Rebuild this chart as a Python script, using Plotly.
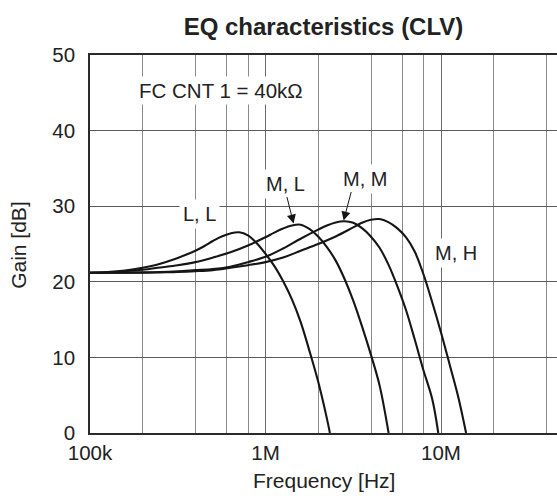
import plotly.graph_objects as go

# ---------------- data ----------------
# frequencies are given as log10(Hz); gains in dB
logf_ll = [5.0, 5.1, 5.2, 5.3, 5.35, 5.4, 5.45, 5.5, 5.55, 5.6, 5.65, 5.7, 5.75, 5.8, 5.85, 5.9, 5.95, 6.0, 6.05, 6.1, 6.15, 6.2, 6.25, 6.3, 6.35, 6.367]
gain_ll = [21.2, 21.3, 21.5, 21.85, 22.1, 22.4, 22.75, 23.15, 23.6, 24.1, 24.7, 25.4, 26.0, 26.4, 26.55, 26.15, 25.1, 23.7, 22.1, 20.1, 17.7, 14.7, 10.9, 6.8, 1.9, 0.0]

logf_ml = [5.0, 5.1, 5.2, 5.3, 5.4, 5.5, 5.6, 5.7, 5.8, 5.9, 6.0, 6.05, 6.1, 6.15, 6.2, 6.25, 6.3, 6.35, 6.4, 6.45, 6.5, 6.55, 6.6, 6.65, 6.7015]
gain_ml = [21.2, 21.25, 21.4, 21.6, 21.9, 22.2, 22.6, 23.2, 23.9, 24.8, 25.9, 26.5, 27.05, 27.45, 27.55, 27.0, 26.0, 24.6, 22.8, 20.4, 17.5, 14.1, 10.4, 6.3, 0.0]

logf_mm = [5.0, 5.1, 5.2, 5.3, 5.4, 5.5, 5.6, 5.7, 5.8, 5.9, 6.0, 6.1, 6.2, 6.3, 6.35, 6.4, 6.45, 6.5, 6.55, 6.6, 6.65, 6.7, 6.75, 6.8, 6.85, 6.9, 6.95, 6.9845]
gain_mm = [21.2, 21.2, 21.22, 21.25, 21.3, 21.4, 21.55, 21.7, 22.0, 22.6, 23.3, 24.4, 25.7, 26.9, 27.45, 27.85, 28.0, 27.8, 27.1, 26.0, 24.5, 22.3, 19.5, 16.3, 12.4, 8.3, 4.5, 0.0]

logf_mh = [5.0, 5.1, 5.2, 5.3, 5.4, 5.5, 5.6, 5.7, 5.8, 5.9, 6.0, 6.1, 6.2, 6.3, 6.4, 6.5, 6.55, 6.6, 6.65, 6.7, 6.75, 6.8, 6.85, 6.9, 6.95, 7.0, 7.05, 7.1, 7.143]
gain_mh = [21.2, 21.2, 21.2, 21.2, 21.25, 21.3, 21.4, 21.55, 21.85, 22.2, 22.6, 23.2, 24.1, 25.0, 26.0, 27.2, 27.8, 28.2, 28.3, 27.9, 27.1, 25.9, 24.0, 21.0, 17.3, 13.3, 9.0, 4.6, 0.0]

x_tick_vals = [1e5, 1e6, 1e7]
x_tick_text = ["100k", "1M", "10M"]
x_minor_vals = [2e5, 4e5, 6e5, 8e5, 2e6, 4e6, 6e6, 8e6, 2e7, 4e7]
y_tick_vals = [0, 10, 20, 30, 40, 50]

curve_labels = ["L, L", "M, L", "M, M", "M, H"]
label_logf = [5.6256, 6.1128, 6.5687, 7.086]
label_gain = [29.0, 33.0, 33.65, 23.8]

# ---------------- figure ----------------
FONT = "Liberation Sans, Arial, sans-serif"
TXT = "#222222"

fig = go.Figure()
for lf, gy, nm in [(logf_ll, gain_ll, "L, L"), (logf_ml, gain_ml, "M, L"),
                   (logf_mm, gain_mm, "M, M"), (logf_mh, gain_mh, "M, H")]:
    fig.add_trace(go.Scatter(x=[10 ** v for v in lf], y=gy, mode="lines", name=nm,
                             line=dict(color="#151515", width=2.1, shape="spline", smoothing=1.0),
                             showlegend=False, hoverinfo="skip"))

annotations = []
for t, lf, gy in zip(curve_labels, label_logf, label_gain):
    annotations.append(dict(x=lf, y=gy, xref="x", yref="y", text=t, showarrow=False,
                            font=dict(family=FONT, size=20, color=TXT), bgcolor="white", borderpad=3,
                            xanchor="center", yanchor="middle"))
annotations.append(dict(x=5.7464, y=45.3, xref="x", yref="y", text="FC CNT 1 = 40kΩ", showarrow=False,
                        font=dict(family=FONT, size=20.5, color=TXT), bgcolor="white", borderpad=2,
                        xanchor="center", yanchor="middle"))
# arrows
annotations.append(dict(x=6.160, y=27.7, xref="x", yref="y", text="", showarrow=True,
                        ax=-7, ay=-28, axref="pixel", ayref="pixel", arrowhead=2, arrowsize=1.8,
                        arrowwidth=1, arrowcolor="#151515", standoff=0))
annotations.append(dict(x=6.445, y=28.1, xref="x", yref="y", text="", showarrow=True,
                        ax=8, ay=-30, axref="pixel", ayref="pixel", arrowhead=2, arrowsize=1.8,
                        arrowwidth=1, arrowcolor="#151515", standoff=0))
# axis titles
annotations.append(dict(x=0.5, y=-0.1251, xref="paper", yref="paper", text="Frequency [Hz]", showarrow=False,
                        font=dict(family=FONT, size=21, color=TXT), xanchor="center", yanchor="middle"))
annotations.append(dict(x=-0.153, y=0.4966, xref="paper", yref="paper", text="Gain [dB]", showarrow=False,
                        textangle=-90, font=dict(family=FONT, size=21, color=TXT),
                        xanchor="center", yanchor="middle"))

fig.update_layout(
    width=557, height=496,
    margin=dict(l=90, r=0, t=55, b=63, pad=0),
    paper_bgcolor="white", plot_bgcolor="white",
    title=dict(text="<b>EQ characteristics (CLV)</b>", x=0.5, xref="paper", xanchor="center",
               y=1 - 27 / 496, yref="container", yanchor="middle",
               font=dict(family=FONT, size=24, color=TXT)),
    annotations=annotations,
    showlegend=False,
)
fig.update_xaxes(type="log", range=[5, 7.661], tickmode="array", tickvals=x_tick_vals, ticktext=x_tick_text,
                 showgrid=True, gridcolor="#6a6a6a", gridwidth=1,
                 minor=dict(tickvals=x_minor_vals, showgrid=True, gridcolor="#8a8a8a", gridwidth=1, ticks=""),
                 showline=True, linecolor="#2a2a2a", linewidth=1.5, mirror=True,
                 ticks="", ticklabelstandoff=1, automargin=False, zeroline=False,
                 tickfont=dict(family=FONT, size=20.5, color=TXT))
fig.update_yaxes(range=[0, 50], tickmode="array", tickvals=y_tick_vals,
                 showgrid=True, gridcolor="#5a5a5a", gridwidth=1,
                 showline=True, linecolor="#2a2a2a", linewidth=1.5, mirror=False,
                 ticks="", ticklabelstandoff=9, automargin=False, zeroline=False,
                 tickfont=dict(family=FONT, size=20.5, color=TXT))

fig.write_html("out.html")
